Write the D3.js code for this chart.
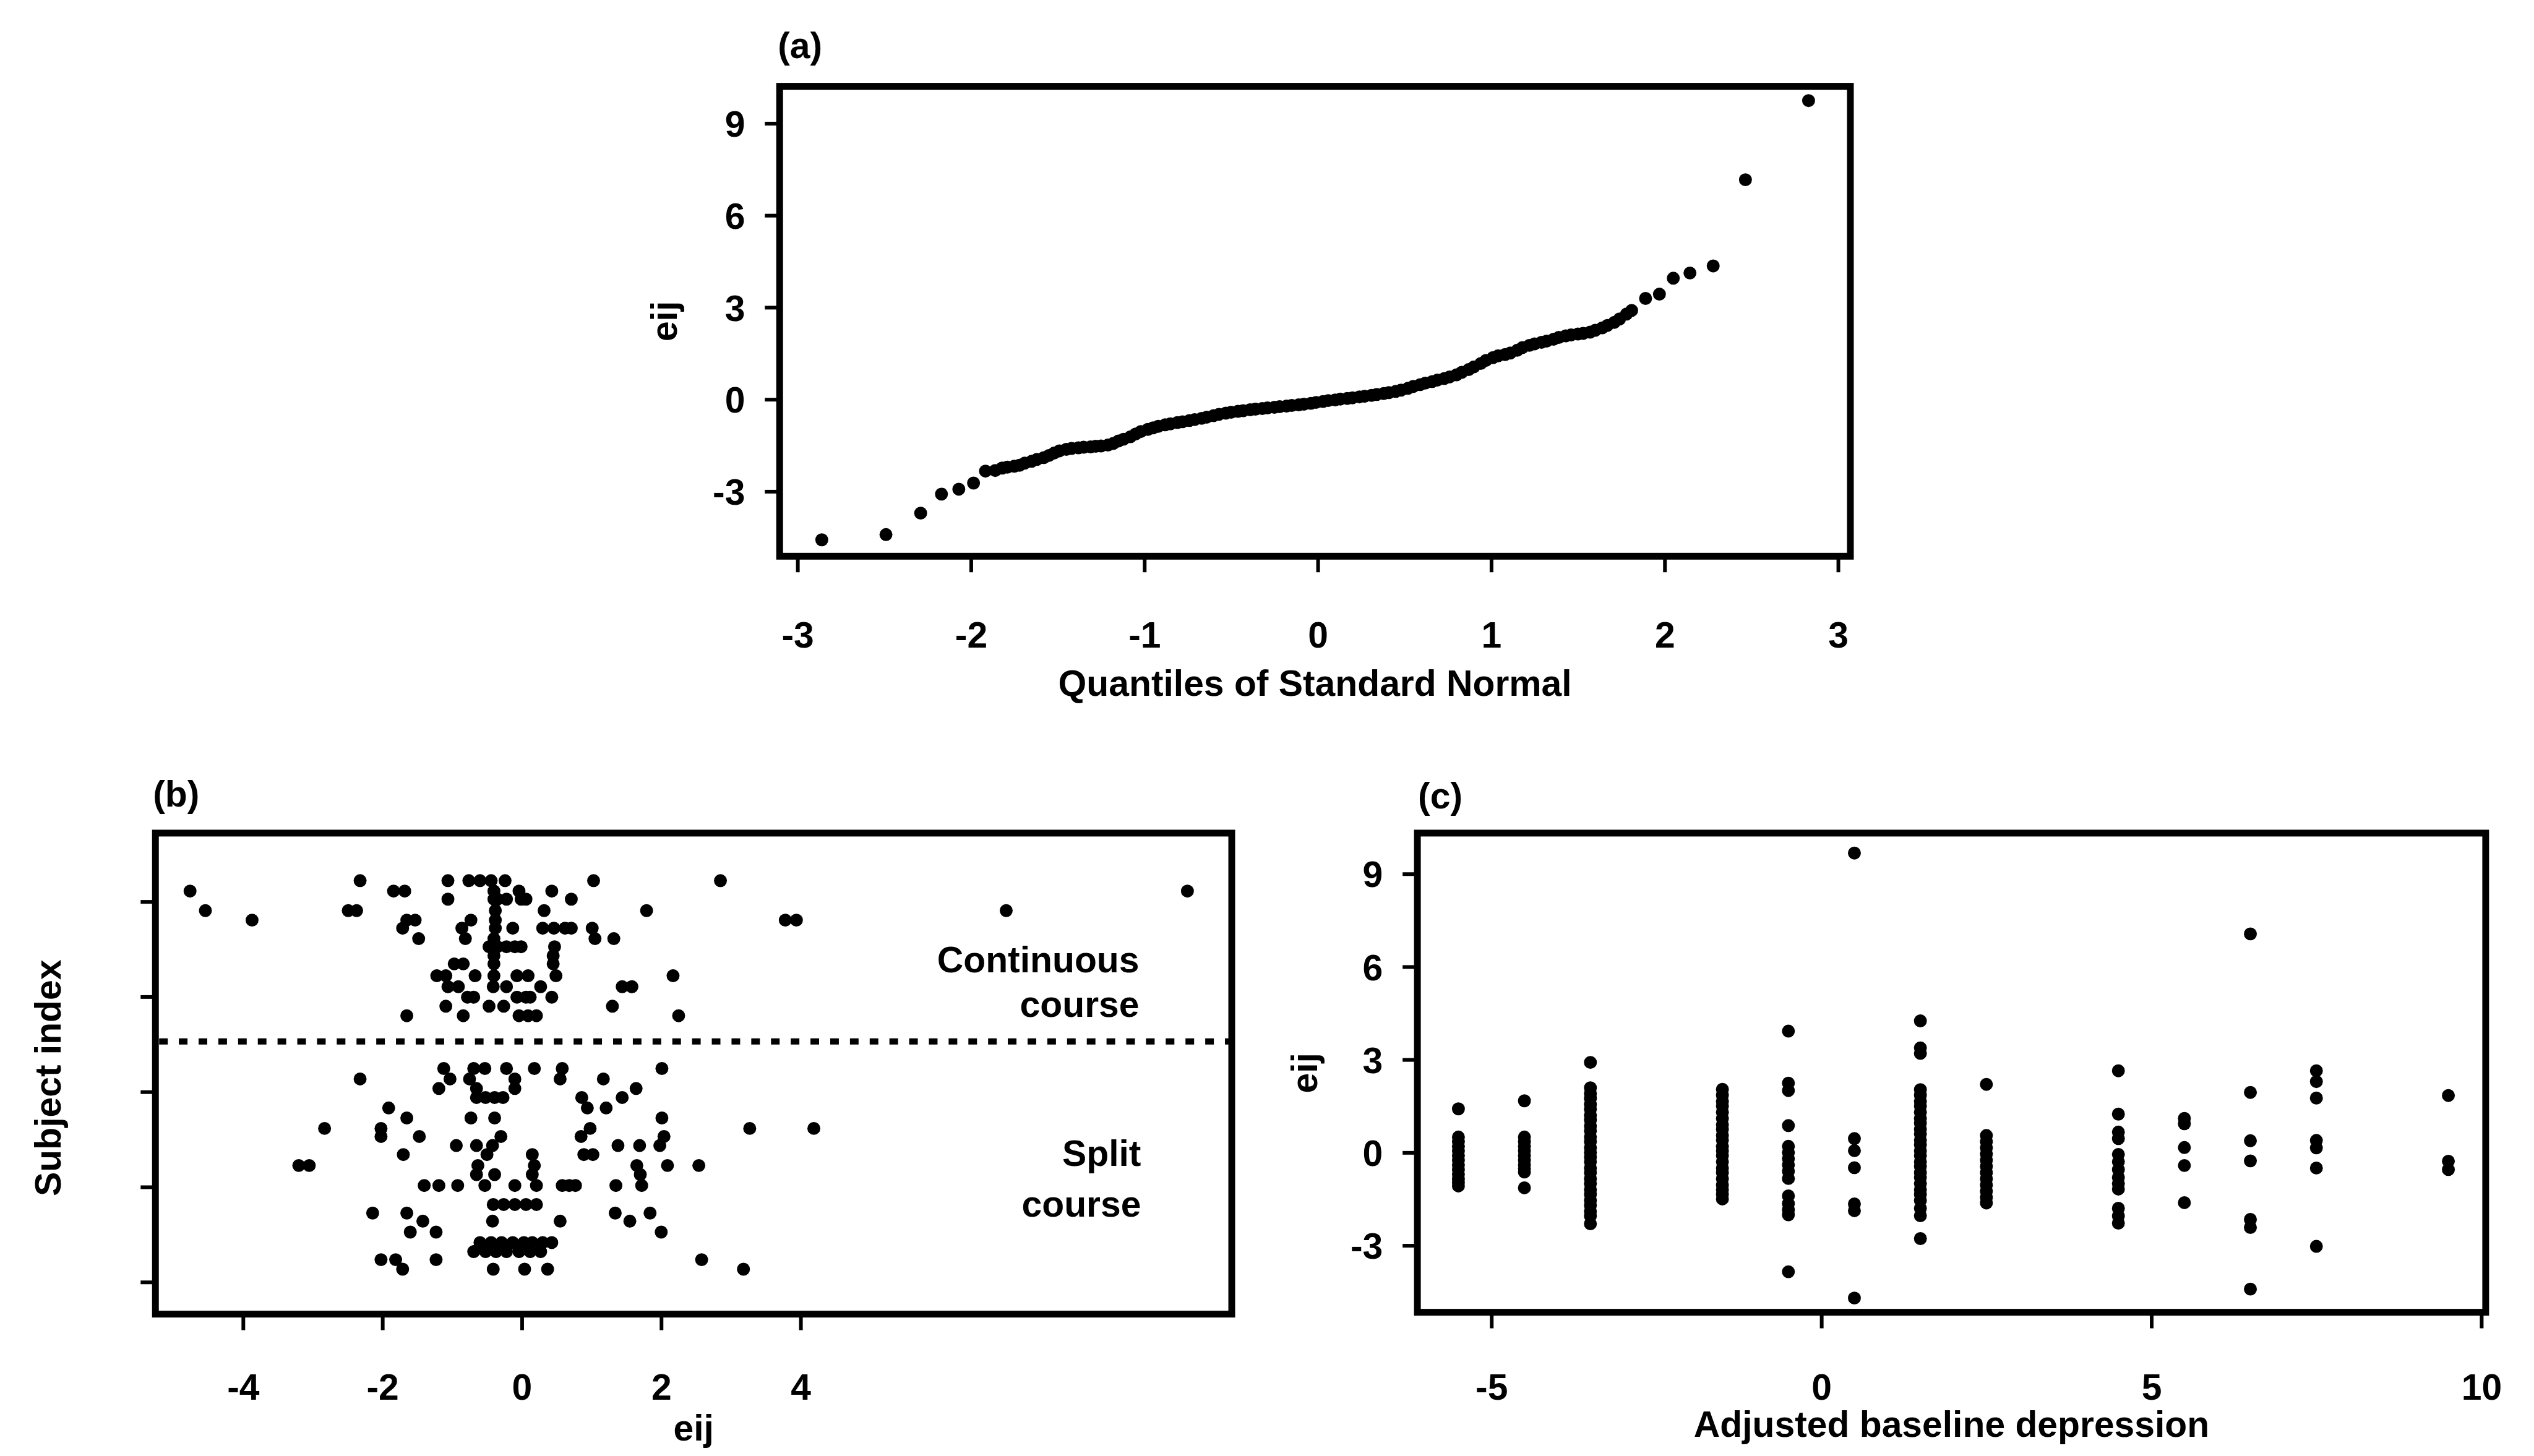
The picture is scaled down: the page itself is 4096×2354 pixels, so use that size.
<!DOCTYPE html>
<html>
<head>
<meta charset="utf-8">
<script src="https://cdnjs.cloudflare.com/ajax/libs/d3/7.8.5/d3.min.js"></script>
<style>
  html, body { margin: 0; padding: 0; background: #fff; }
  svg { display: block; }
</style>
</head>
<body>
<div id="chart"></div>
<script>
// values

// (a) normal QQ plot of the residuals: [quantile, eij]
const qqPoints = [
  [-2.86, -4.58], [-2.49, -4.41], [-2.29, -3.71], [-2.17, -3.09], [-2.07, -2.93],
  [-1.985, -2.73], [-1.916, -2.34], [-1.86, -2.32], [-1.82, -2.24], [-1.79, -2.21],
  [-1.75, -2.18], [-1.72, -2.15], [-1.69, -2.08], [-1.65, -2.02], [-1.62, -1.96],
  [-1.58, -1.90], [-1.55, -1.83], [-1.52, -1.75], [-1.49, -1.68], [-1.45, -1.63],
  [-1.42, -1.60], [-1.38, -1.58], [-1.35, -1.56], [-1.31, -1.55], [-1.28, -1.53],
  [-1.25, -1.52], [-1.21, -1.49], [-1.18, -1.44], [-1.15, -1.36], [-1.12, -1.30],
  [-1.08, -1.22], [-1.05, -1.13], [-1.02, -1.05], [-0.98, -0.98], [-0.95, -0.93],
  [-0.92, -0.88], [-0.88, -0.83], [-0.85, -0.80], [-0.81, -0.76], [-0.78, -0.73],
  [-0.74, -0.69], [-0.71, -0.66], [-0.67, -0.62], [-0.64, -0.58], [-0.60, -0.53],
  [-0.57, -0.49], [-0.53, -0.45], [-0.50, -0.42], [-0.46, -0.39], [-0.43, -0.37],
  [-0.39, -0.34], [-0.36, -0.32], [-0.32, -0.30], [-0.29, -0.28], [-0.25, -0.26],
  [-0.22, -0.24], [-0.18, -0.22], [-0.15, -0.20], [-0.11, -0.18], [-0.08, -0.16],
  [-0.04, -0.13], [-0.01, -0.10], [0.03, -0.07], [0.06, -0.04], [0.10, -0.02],
  [0.13, 0.01], [0.17, 0.03], [0.20, 0.05], [0.24, 0.08], [0.27, 0.10],
  [0.31, 0.13], [0.34, 0.16], [0.38, 0.19], [0.41, 0.22], [0.45, 0.26],
  [0.48, 0.30], [0.52, 0.36], [0.55, 0.42], [0.59, 0.48], [0.62, 0.53],
  [0.66, 0.58], [0.69, 0.63], [0.73, 0.68], [0.76, 0.73], [0.80, 0.80],
  [0.83, 0.88], [0.87, 0.97], [0.90, 1.06], [0.94, 1.17], [0.97, 1.27],
  [1.01, 1.36], [1.04, 1.42], [1.08, 1.46], [1.11, 1.51], [1.15, 1.60],
  [1.18, 1.69], [1.22, 1.76], [1.25, 1.81], [1.29, 1.86], [1.32, 1.90],
  [1.36, 1.96], [1.39, 2.02], [1.43, 2.07], [1.46, 2.10], [1.50, 2.13],
  [1.53, 2.15], [1.57, 2.19], [1.60, 2.25], [1.64, 2.33], [1.67, 2.41],
  [1.71, 2.51], [1.74, 2.62], [1.78, 2.78], [1.81, 2.90], [1.89, 3.29],
  [1.97, 3.43], [2.05, 3.95], [2.146, 4.12], [2.28, 4.35], [2.466, 7.16],
  [2.83, 9.74]
];

// (b) residuals per subject, one row per subject index
const subjectRows = [
  84.4, 82.2, 80.5, 78.1, 76.1, 74.4, 72.2, 70.5, 68.6, 66.9, 64.4, 62.1, 59.9, 58.0, 56.0,
  44.9, 42.7, 40.7, 38.8, 36.6, 34.5, 32.3, 30.6, 28.7, 26.8, 24.5, 22.6, 20.3, 16.3,
  14.5, 12.8, 10.5, 8.3, 6.4, 4.7, 2.7
];
const subjectResiduals = [
  [-2.32, -1.06, -0.76, -0.60, -0.44, -0.24, 1.03, 2.85],
  [-4.76, -1.84, -1.68, -0.40, -0.04, 0.43, 9.55],
  [-1.06, -0.40, -0.35, -0.22, -0.01, 0.06, 0.71],
  [-4.54, -2.49, -2.37, -0.38, 0.32, 1.79, 6.95],
  [-3.87, -1.65, -1.53, -0.73, -0.38, 3.78, 3.94],
  [-1.71, -0.86, -0.38, -0.13, 0.30, 0.46, 0.62, 0.71, 1.01],
  [-1.48, -0.81, -0.40, 1.05, 1.32],
  [-0.47, -0.35, -0.22, -0.10, -0.01, 0.47],
  [-0.40, 0.45],
  [-0.97, -0.84, -0.40, 0.45],
  [-1.22, -1.09, -0.67, -0.40, -0.07, 0.09, 0.49, 2.17],
  [-1.06, -0.91, -0.41, -0.22, 0.27, 1.44, 1.58],
  [-0.78, -0.69, -0.07, 0.06, 0.12, 0.43],
  [-1.09, -0.47, -0.26, 1.30],
  [-1.65, -0.84, -0.04, 0.09, 0.21, 2.25],
  [-1.12, -0.69, -0.53, -0.22, 0.18, 0.58, 2.01],
  [-2.32, -1.03, -0.75, -0.10, 0.55, 1.17],
  [-1.19, -0.65, -0.10, 1.64],
  [-0.65, -0.52, -0.39, -0.27, 0.86, 1.44],
  [-1.91, 0.94, 1.21],
  [-1.65, -0.73, -0.39, 2.01],
  [-2.83, -2.02, 0.98, 3.27, 4.19],
  [-2.02, -1.47, -0.30, 0.85, 2.04],
  [-0.94, -0.65, -0.42, 1.38, 1.69, 1.98],
  [-1.70, -0.50, 0.15, 0.89, 1.02],
  [-3.20, -3.05, -0.63, 0.18, 1.65, 2.09, 2.54],
  [-0.65, -0.39, 0.15, 1.70],
  [-1.40, -1.19, -0.92, -0.53, -0.10, 0.21, 0.58, 0.68, 0.77, 1.35, 1.72],
  [-0.41, -0.26, -0.10, 0.06, 0.21],
  [-2.14, -1.65, 1.34, 1.84],
  [-1.42, -0.42, 0.55, 1.55],
  [-1.60, -1.23, 2.00],
  [-0.60, -0.44, -0.29, -0.13, 0.03, 0.15, 0.30, 0.43],
  [-0.69, -0.52, -0.37, -0.22, -0.04, 0.12, 0.27],
  [-2.02, -1.81, -1.23, 2.58],
  [-1.71, -0.41, 0.04, 0.37, 3.18]
];
const groupDivide = 50.6;
const groupLabels = [["Continuous", "course"], ["Split", "course"]];

// (c) residuals at each adjusted baseline depression level
const baselineLevels = [-5.5, -4.5, -3.5, -1.5, -0.5, 0.5, 1.5, 2.5, 4.5, 5.5, 6.5, 7.5, 9.5];
const baselineResiduals = [
  [1.41, 0.50, 0.35, 0.20, 0.05, -0.10, -0.25, -0.40, -0.55, -0.70, -0.85, -0.97, -1.08],
  [1.67, 0.50, 0.35, 0.20, 0.05, -0.10, -0.25, -0.40, -0.52, -0.63, -1.14],
  [2.91, 2.09, 1.90, 1.75, 1.55, 1.40, 1.20, 1.05, 0.85, 0.70, 0.50, 0.35, 0.15, 0.00,
   -0.15, -0.30, -0.50, -0.65, -0.85, -1.00, -1.20, -1.35, -1.55, -1.70, -1.90, -2.05, -2.30],
  [2.04, 1.85, 1.65, 1.50, 1.30, 1.10, 0.90, 0.75, 0.55, 0.40, 0.20, 0.05, -0.10, -0.30,
   -0.50, -0.65, -0.85, -1.05, -1.20, -1.35, -1.50],
  [3.92, 2.24, 2.00, 0.87, 0.20, 0.00, -0.20, -0.40, -0.60, -0.84, -1.40, -1.65, -1.85, -2.01, -3.85],
  [9.67, 0.45, 0.06, -0.49, -1.66, -1.88, -4.70],
  [4.25, 3.38, 3.20, 2.03, 1.85, 1.65, 1.50, 1.30, 1.10, 0.95, 0.75, 0.60, 0.40, 0.25, 0.05,
   -0.10, -0.30, -0.45, -0.65, -0.80, -1.00, -1.20, -1.35, -1.55, -1.80, -2.04, -2.78],
  [2.20, 0.55, 0.35, 0.15, -0.05, -0.25, -0.45, -0.65, -0.85, -1.05, -1.25, -1.45, -1.63],
  [2.64, 1.24, 0.66, 0.45, -0.06, -0.30, -0.55, -0.80, -1.00, -1.18, -1.80, -2.05, -2.28],
  [1.10, 0.93, 0.16, -0.42, -1.62],
  [7.06, 1.94, 0.38, -0.27, -2.16, -2.42, -4.41],
  [2.64, 2.29, 1.76, 0.39, 0.15, -0.50, -3.03],
  [1.84, -0.28, -0.55]
];

// tick values
const quantileTicks = [-3, -2, -1, 0, 1, 2, 3];
const residualTicks = [-3, 0, 3, 6, 9];
const subjectResidualTicks = [-4, -2, 0, 2, 4];
const subjectTicks = [0, 20, 40, 60, 80];
const baselineTicks = [-5, 0, 5, 10];

// drawing, in reference pixels, scaled to the window
const width = 4096, height = 2354, k = 0.997;
const font = "'Liberation Sans', Arial, Helvetica, sans-serif";
const fs = 59;
const dotR = 10.5;

const svg = d3.select("#chart").append("svg")
  .attr("width", width)
  .attr("height", height)
  .attr("viewBox", [0, 0, width, height]);

const root = svg.append("g")
  .attr("transform", `scale(${k})`)
  .attr("font-family", font)
  .attr("font-weight", "bold")
  .attr("font-size", fs);

function panel(o) {
  const g = root.append("g");

  let xAxis = g.append("g")
    .attr("transform", `translate(0,${o.box.y1})`)
    .call(d3.axisBottom(o.x).tickValues(o.xTicks).tickSize(26).tickFormat(d => String(d)));
  xAxis.select(".domain").remove();
  xAxis.selectAll(".tick line").attr("stroke", "#000").attr("stroke-width", 6);
  xAxis.selectAll(".tick text")
    .attr("fill", "#000")
    .attr("font-size", fs)
    .attr("font-family", font)
    .attr("y", o.xLabelY - o.box.y1)
    .attr("dy", null);
  xAxis.attr("font-size", null).attr("font-family", null);

  let yAxis = g.append("g")
    .attr("transform", `translate(${o.box.x0},0)`)
    .call(d3.axisLeft(o.y).tickValues(o.yTicks).tickSize(24)
      .tickFormat(o.yLabels ? d => String(d) : () => ""));
  yAxis.select(".domain").remove();
  yAxis.selectAll(".tick line").attr("stroke", "#000").attr("stroke-width", 6);
  yAxis.selectAll(".tick text")
    .attr("fill", "#000")
    .attr("font-size", fs)
    .attr("font-family", font)
    .attr("x", -56)
    .attr("dy", "0.36em");
  yAxis.attr("font-size", null).attr("font-family", null);

  g.append("rect")
    .attr("x", o.box.x0)
    .attr("y", o.box.y0)
    .attr("width", o.box.x1 - o.box.x0)
    .attr("height", o.box.y1 - o.box.y0)
    .attr("fill", "none")
    .attr("stroke", "#000")
    .attr("stroke-width", 11);

  g.append("text")
    .attr("x", o.tag[1])
    .attr("y", o.tag[2])
    .text(o.tag[0]);

  g.append("text")
    .attr("x", (o.box.x0 + o.box.x1) / 2)
    .attr("y", o.xTitleY)
    .attr("text-anchor", "middle")
    .text(o.xTitle);

  g.append("text")
    .attr("transform", `translate(${o.yTitleX},${o.yTitleCY}) rotate(-90)`)
    .attr("text-anchor", "middle")
    .text(o.yTitle);

  g.append("g")
    .selectAll("circle")
    .data(o.points)
    .join("circle")
    .attr("cx", d => o.x(d[0]))
    .attr("cy", d => o.y(d[1]))
    .attr("r", dotR)
    .attr("fill", "#000");

  return g;
}

// (a)
const boxA = { x0: 1264, x1: 3000, y0: 140, y1: 902 };
const xA = d3.scaleLinear().domain([-3, 3]).range([1293, 2980]);
const yA = d3.scaleLinear().domain([-3, 9]).range([796.8, 200]);
panel({
  box: boxA, x: xA, y: yA,
  xTicks: quantileTicks, yTicks: residualTicks, yLabels: true,
  xLabelY: 1050, xTitleY: 1128, xTitle: "Quantiles of Standard Normal",
  yTitle: "eij", yTitleX: 1097, yTitleCY: 521,
  tag: ["(a)", 1261, 94],
  points: qqPoints
});

// (b)
const boxB = { x0: 252, x1: 1997, y0: 1351, y1: 2131 };
const xB = d3.scaleLinear().domain([-4, 4]).range([394, 1298]);
const yB = d3.scaleLinear().domain([0, 80]).range([2079, 1462]);
const subjectPoints = subjectRows.flatMap((s, i) => subjectResiduals[i].map(e => [e, s]));
const gB = panel({
  box: boxB, x: xB, y: yB,
  xTicks: subjectResidualTicks, yTicks: subjectTicks, yLabels: false,
  xLabelY: 2270, xTitleY: 2336, xTitle: "eij",
  yTitle: "Subject index", yTitleX: 98, yTitleCY: 1748,
  tag: ["(b)", 248, 1308],
  points: subjectPoints
});

gB.append("line")
  .attr("x1", boxB.x0 + 6)
  .attr("x2", boxB.x1)
  .attr("y1", yB(groupDivide))
  .attr("y2", yB(groupDivide))
  .attr("stroke", "#000")
  .attr("stroke-width", 10)
  .attr("stroke-dasharray", "14 18");

const groupText = [
  { lines: groupLabels[0], x: 1847, y: [1577, 1649] },
  { lines: groupLabels[1], x: 1850, y: [1891, 1973] }
];
groupText.forEach(t => {
  t.lines.forEach((line, i) => {
    gB.append("text")
      .attr("x", t.x)
      .attr("y", t.y[i])
      .attr("text-anchor", "end")
      .text(line);
  });
});

// (c)
const boxC = { x0: 2298, x1: 4030, y0: 1351, y1: 2128 };
const xC = d3.scaleLinear().domain([-5, 10]).range([2418, 4023]);
const yC = d3.scaleLinear().domain([-3, 9]).range([2019.6, 1417]);
const baselinePoints = baselineLevels.flatMap((b, i) => baselineResiduals[i].map(e => [b, e]));
panel({
  box: boxC, x: xC, y: yC,
  xTicks: baselineTicks, yTicks: residualTicks, yLabels: true,
  xLabelY: 2270, xTitleY: 2330, xTitle: "Adjusted baseline depression",
  yTitle: "eij", yTitleX: 2135, yTitleCY: 1740,
  tag: ["(c)", 2299, 1311],
  points: baselinePoints
});
</script>
</body>
</html>
